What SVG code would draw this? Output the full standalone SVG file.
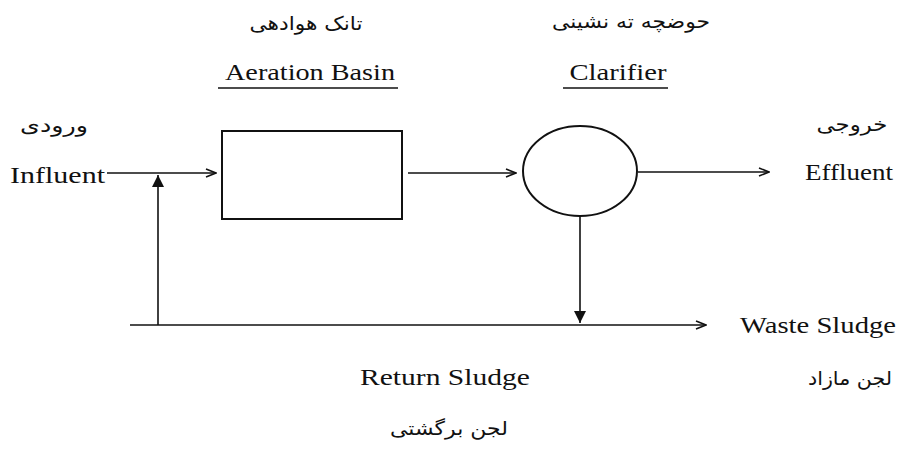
<svg xmlns="http://www.w3.org/2000/svg" width="900" height="449" viewBox="0 0 900 449">
  <style>
    .en { font-family: "Liberation Serif", "Times New Roman", serif; font-size: 23px; fill: #111; }
    .fa { font-family: "DejaVu Sans", "Noto Sans", sans-serif; font-size: 19px; fill: #111; }
    .shape { fill: none; stroke: #111; stroke-width: 2; }
    .flow { fill: none; stroke: #111; stroke-width: 1.6; }
  </style>
  <defs>
    <marker id="open" markerWidth="12" markerHeight="10" refX="11" refY="5" orient="auto" markerUnits="userSpaceOnUse">
      <path d="M1,1 L11,5 L1,9" fill="none" stroke="#111" stroke-width="1.6"/>
    </marker>
    <marker id="solid" markerWidth="12" markerHeight="18" refX="12" refY="6" orient="auto" markerUnits="userSpaceOnUse">
      <path d="M0,0 L12,6 L0,12 Z" fill="#111"/>
    </marker>
  </defs>

  <rect width="900" height="449" fill="#fff"/>

  <!-- Connectors -->
  <g id="connectors">
    <line class="flow" x1="107" y1="173" x2="216" y2="173" marker-end="url(#open)"/>
    <line class="flow" x1="408" y1="173" x2="516" y2="173" marker-end="url(#open)"/>
    <line class="flow" x1="638" y1="172" x2="769" y2="172" marker-end="url(#open)"/>
    <line class="flow" x1="580" y1="216" x2="580" y2="323" marker-end="url(#solid)"/>
    <line class="flow" x1="130" y1="325" x2="706" y2="325" marker-end="url(#open)"/>
    <line class="flow" x1="158" y1="325" x2="158" y2="175" marker-end="url(#solid)"/>
  </g>

  <!-- Influent -->
  <g id="influent">
    <text class="fa" x="54" y="132" text-anchor="middle" direction="rtl" textLength="68" lengthAdjust="spacingAndGlyphs">ورودی</text>
    <text class="en" x="10" y="183" textLength="95" lengthAdjust="spacingAndGlyphs">Influent</text>
  </g>

  <!-- Aeration basin -->
  <g id="aeration-basin">
    <text class="fa" x="306" y="30" text-anchor="middle" direction="rtl" textLength="113" lengthAdjust="spacingAndGlyphs">تانک هوادهی</text>
    <text class="en" x="310" y="80" text-anchor="middle" textLength="170" lengthAdjust="spacingAndGlyphs">Aeration Basin</text>
    <line class="flow" x1="218" y1="88" x2="398" y2="88"/>
    <rect class="shape" x="222" y="131" width="180" height="88"/>
  </g>

  <!-- Clarifier -->
  <g id="clarifier">
    <text class="fa" x="631" y="28" text-anchor="middle" direction="rtl" textLength="158" lengthAdjust="spacingAndGlyphs">حوضچه ته نشینی</text>
    <text class="en" x="618" y="80" text-anchor="middle" textLength="97" lengthAdjust="spacingAndGlyphs">Clarifier</text>
    <line class="flow" x1="563" y1="88" x2="668" y2="88"/>
    <ellipse class="shape" cx="580" cy="171" rx="57" ry="45"/>
  </g>

  <!-- Effluent -->
  <g id="effluent">
    <text class="fa" x="852" y="131" text-anchor="middle" direction="rtl" textLength="71" lengthAdjust="spacingAndGlyphs">خروجی</text>
    <text class="en" x="805" y="180" textLength="88" lengthAdjust="spacingAndGlyphs">Effluent</text>
  </g>

  <!-- Waste sludge -->
  <g id="waste-sludge">
    <text class="en" x="740" y="333" textLength="156" lengthAdjust="spacingAndGlyphs">Waste Sludge</text>
    <text class="fa" x="850" y="385" text-anchor="middle" direction="rtl" textLength="84" lengthAdjust="spacingAndGlyphs">لجن مازاد</text>
  </g>

  <!-- Return sludge -->
  <g id="return-sludge">
    <text class="en" x="445" y="385" text-anchor="middle" textLength="170" lengthAdjust="spacingAndGlyphs">Return Sludge</text>
    <text class="fa" x="449" y="435" text-anchor="middle" direction="rtl" textLength="118" lengthAdjust="spacingAndGlyphs">لجن برگشتی</text>
  </g>
</svg>
